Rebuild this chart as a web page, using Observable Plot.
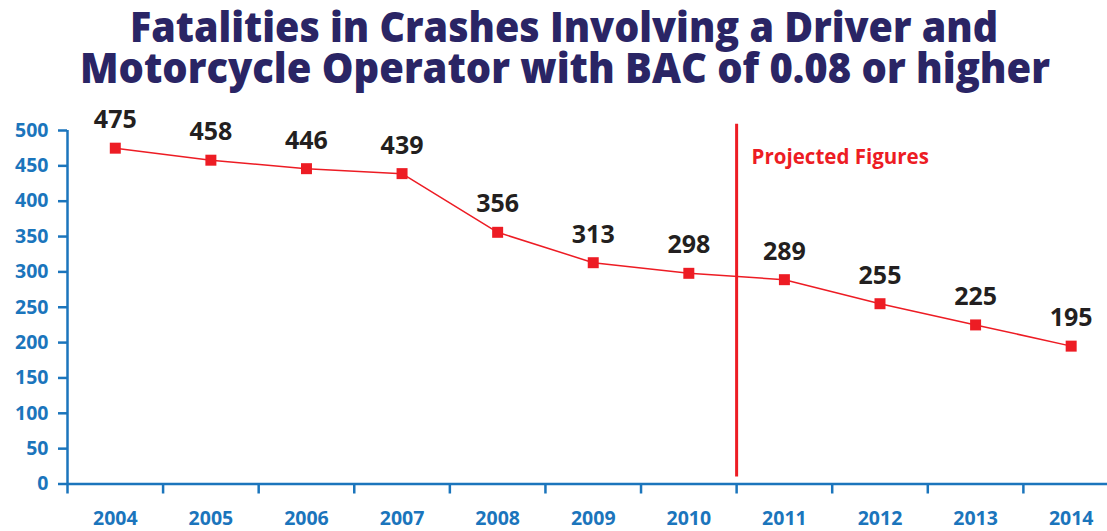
<!DOCTYPE html>
<html>
<head>
<meta charset="utf-8">
<script src="https://cdn.jsdelivr.net/npm/d3@7"></script>
<script src="https://cdn.jsdelivr.net/npm/@observablehq/plot@0.6"></script>
<style>
  html, body { margin: 0; padding: 0; background: #fff; }
  #wrap { width: 1107px; height: 531px; overflow: hidden; }
  #title { display: block; }
  #title text { font-family: "Open Sans", sans-serif; font-weight: 800; font-size: 42px; fill: #2a2565; }
  #chart svg { display: block; }
</style>
</head>
<body>
<div id="wrap">
  <svg id="title" width="1107" height="100">
    <text x="564" y="42" text-anchor="middle" textLength="868" lengthAdjust="spacingAndGlyphs">Fatalities in Crashes Involving a Driver and</text>
    <text x="565" y="83" text-anchor="middle" textLength="970" lengthAdjust="spacingAndGlyphs">Motorcycle Operator with BAC of 0.08 or higher</text>
  </svg>
  <div id="chart"></div>
</div>
<script>
// ---- data ----
const years = [2004, 2005, 2006, 2007, 2008, 2009, 2010, 2011, 2012, 2013, 2014];
const fatalities = [475, 458, 446, 439, 356, 313, 298, 289, 255, 225, 195];
const yTicks = [0, 50, 100, 150, 200, 250, 300, 350, 400, 450, 500];
const projectionStart = 2010.5;
const projectionLabel = "Projected Figures";

// ---- chart ----
const data = years.map((y, i) => ({year: y, value: fatalities[i]}));
const boundaries = years.map(y => y - 0.5);
const blue = "#1b75bc";
const red = "#ed1c24";

const chart = Plot.plot({
  width: 1107,
  height: 431,
  marginLeft: 67,
  marginRight: 0,
  marginTop: 30,
  marginBottom: 47.5,
  style: {fontFamily: "Open Sans, sans-serif", fontWeight: 700, background: "#fff"},
  x: {domain: [2003.5, 2014.38]},
  y: {domain: [0, 500]},
  marks: [
    Plot.ruleX([projectionStart], {y1: 10, y2: 509, stroke: red, strokeWidth: 3}),
    Plot.text([projectionLabel], {x: projectionStart, y: 462, text: d => d, textAnchor: "start", dx: 15, fill: red, fontSize: 20.5, fontWeight: 700}),
    Plot.axisY({ticks: yTicks, tickSize: 9, tickPadding: 10, color: blue, strokeWidth: 2.5, fontSize: 19.5, label: null, tickFormat: d => String(d)}),
    Plot.axisX({ticks: boundaries, tickSize: 10, tickFormat: () => "", color: blue, strokeWidth: 2.5, label: null}),
    Plot.axisX({ticks: years, tickSize: 0, tickPadding: 27, color: blue, fontSize: 19.5, label: null, tickFormat: d => String(d)}),
    Plot.ruleX([2003.5], {y1: 0, y2: 500, stroke: blue, strokeWidth: 2.5}),
    Plot.ruleY([0], {stroke: blue, strokeWidth: 2.5}),
    Plot.line(data, {x: "year", y: "value", stroke: red, strokeWidth: 1.5}),
    Plot.dot(data, {x: "year", y: "value", symbol: "square", r: 6.2, fill: red, stroke: "none"}),
    Plot.text(data, {x: "year", y: "value", text: d => String(d.value), dy: -28, fontSize: 25, fontWeight: 700, fill: "#231f20"})
  ]
});
document.getElementById("chart").appendChild(chart);
</script>
</body>
</html>
